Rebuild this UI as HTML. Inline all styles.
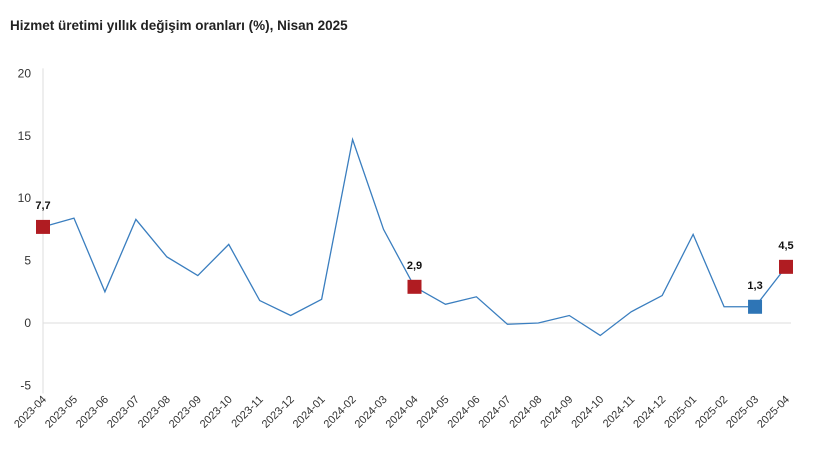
<!DOCTYPE html>
<html><head><meta charset="utf-8"><style>
body{margin:0;background:#fff;font-family:"Liberation Sans",sans-serif}
</style></head><body>
<svg width="820" height="471">
<text x="10" y="30" font-size="13.5" font-weight="bold" fill="#222">Hizmet üretimi yıllık değişim oranları (%), Nisan 2025</text>
<g id="axes"></g><g id="marks"></g>
</svg>
<script>
const categories=["2023-04","2023-05","2023-06","2023-07","2023-08","2023-09","2023-10","2023-11","2023-12","2024-01","2024-02","2024-03","2024-04","2024-05","2024-06","2024-07","2024-08","2024-09","2024-10","2024-11","2024-12","2025-01","2025-02","2025-03","2025-04"];
const values=[7.7,8.4,2.5,8.3,5.3,3.8,6.3,1.8,0.6,1.9,14.7,7.5,2.9,1.5,2.1,-0.1,0.0,0.6,-1.0,0.9,2.2,7.1,1.3,1.3,4.5];
const yTicks=[20,15,10,5,0,-5];
const highlightIdx=[0,12,24];
const blueIdx=[23];
const NS="http://www.w3.org/2000/svg";
const x0=43,x1=786,y0=323,ppu=12.48;
const X=i=>x0+(x1-x0)*i/(categories.length-1);
const Y=v=>y0-v*ppu;
const ax=document.getElementById('axes'),mk=document.getElementById('marks');
function el(t,a,p){const e=document.createElementNS(NS,t);for(const k in a)e.setAttribute(k,a[k]);p.appendChild(e);return e;}
const yl=el('line',{x1:x0,x2:x0,y1:Y(20)-5,y2:Y(-5)+8,stroke:'#ddd'},ax);


const zl=el('line',{x1:x0,x2:x1+5,y1:Y(0),y2:Y(0),stroke:'#ddd'},ax);


yTicks.forEach(v=>{const t=el('text',{x:31,y:Y(v)+4,'font-size':12,fill:'#333','text-anchor':'end'},ax);t.textContent=v;

});
categories.forEach((c,i)=>{const x=X(i),y=400;const t=el('text',{x:x+4,y:y,'font-size':11,fill:'#333','text-anchor':'end',transform:`rotate(-45 ${x+4} ${y})`},ax);t.textContent=c;

});
const pl=el('polyline',{points:values.map((v,i)=>X(i)+','+Y(v)).join(' '),fill:'none',stroke:'#3a7ebf','stroke-width':1.3},mk);


highlightIdx.concat(blueIdx).forEach(i=>{const blue=blueIdx.includes(i);
const r=el('rect',{x:X(i)-7,y:Y(values[i])-7,width:14,height:14,fill:blue?'#2e75b6':'#b01c22'},mk);


const t=el('text',{x:X(i),y:Y(values[i])-18,'font-size':11,'font-weight':'bold',fill:'#111','text-anchor':'middle'},mk);
t.textContent=values[i].toFixed(1).replace('.',',');

});
</script>
</body></html>
